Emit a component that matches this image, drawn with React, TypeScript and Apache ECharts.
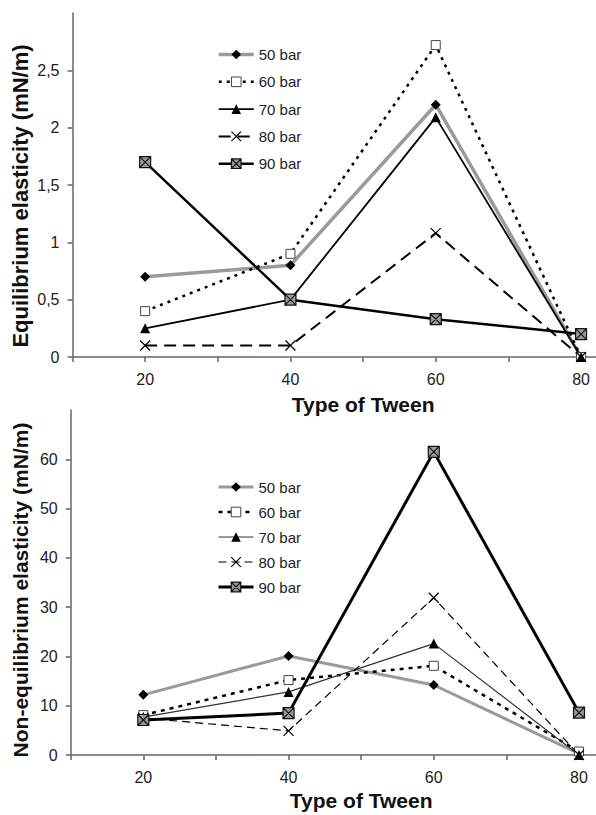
import React, { useEffect, useRef } from "react";
import * as echarts from "echarts";

// ---- data ----
const xValues = [20, 40, 60, 80];
const xLabelValues = [20, 40, 60, 80];
const yLabelsTop = [0, 0.5, 1, 1.5, 2, 2.5];
const yLabelsBottom = [0, 10, 20, 30, 40, 50, 60];
const seriesNames = ["50 bar", "60 bar", "70 bar", "80 bar", "90 bar"];

const eq50 = [0.7, 0.8, 2.2, 0.0];
const eq60 = [0.4, 0.9, 2.72, 0.0];
const eq70 = [0.25, 0.5, 2.09, 0.0];
const eq80 = [0.1, 0.1, 1.08, 0.0];
const eq90 = [1.7, 0.5, 0.33, 0.2];

const neq50 = [12.2, 20.1, 14.2, 0.3];
const neq60 = [8.1, 15.2, 18.1, 0.7];
const neq70 = [7.7, 12.8, 22.6, 0.0];
const neq80 = [7.5, 4.9, 31.9, 0.0];
const neq90 = [7.1, 8.5, 61.5, 8.6];

const FONT = "'Liberation Sans', Arial, Helvetica, sans-serif";
const X_PATH = "path://M0,0L10,10M10,0L0,10";
const BOXX_PATH = "path://M0,0L10,0L10,10L0,10Z M0,0L10,10 M10,0L0,10";

const pairs = (arr: number[]) => xValues.map((x, i) => [x, arr[i]]);

function styleFor(idx: number, bottom: boolean) {
  switch (idx) {
    case 0:
      return {
        symbol: "diamond",
        symbolSize: 10,
        itemStyle: { color: "#000" },
        lineStyle: { color: "#9a9a9a", width: bottom ? 3 : 3.5, type: "solid" },
      };
    case 1:
      return {
        symbol: "rect",
        symbolSize: 9,
        itemStyle: { color: "#fff", borderColor: "#444", borderWidth: 1 },
        lineStyle: { color: "#000", width: 2.5, type: bottom ? [4, 5] : [3, 5] },
      };
    case 2:
      return {
        symbol: "triangle",
        symbolSize: 10,
        itemStyle: { color: "#000" },
        lineStyle: { color: bottom ? "#333" : "#000", width: bottom ? 1.2 : 1.8, type: "solid" },
      };
    case 3:
      return {
        symbol: X_PATH,
        symbolSize: 10,
        itemStyle: { color: "#000", borderColor: "#000", borderWidth: 1.2 },
        lineStyle: { color: "#000", width: bottom ? 1.2 : 2, type: bottom ? [8, 5] : [12, 7] },
      };
    default:
      return {
        symbol: BOXX_PATH,
        symbolSize: 11,
        itemStyle: { color: "#9a9a9a", borderColor: "#111", borderWidth: 1.2 },
        lineStyle: { color: "#000", width: bottom ? 3 : 2.5, type: "solid" },
      };
  }
}

const axisLineStyle = { color: "#666", width: 1.5 };

function xAxis(gridIndex: number, nameGap: number) {
  return {
    type: "value",
    gridIndex,
    min: 10,
    max: 90,
    interval: 10,
    axisLine: { show: true, onZero: false, lineStyle: axisLineStyle },
    axisTick: { show: true, length: 5, lineStyle: axisLineStyle },
    axisLabel: {
      customValues: xLabelValues,
      fontSize: 16,
      color: "#222",
      fontFamily: FONT,
      margin: 14,
    },
    splitLine: { show: false },
    name: "Type of Tween",
    nameLocation: "middle",
    nameGap,
    nameTextStyle: { fontWeight: "bold", fontSize: 21, color: "#111", fontFamily: FONT },
  };
}

function yAxis(gridIndex: number, max: number, interval: number, labels: number[], comma: boolean) {
  return {
    type: "value",
    gridIndex,
    min: 0,
    max,
    interval,
    axisLine: { show: true, lineStyle: axisLineStyle },
    axisTick: { show: true, length: 5, customValues: labels, lineStyle: axisLineStyle },
    axisLabel: {
      customValues: labels,
      fontSize: 16,
      color: "#222",
      fontFamily: FONT,
      margin: 13,
      formatter: (v: number) => (comma ? String(v).replace(".", ",") : String(v)),
    },
    splitLine: { show: false },
  };
}

export default function App() {
  const ref = useRef<HTMLDivElement>(null);
  useEffect(() => {
    if (!ref.current) return;
    const chart = echarts.init(ref.current, null, { renderer: "svg" });
    const topData = [eq50, eq60, eq70, eq80, eq90];
    const botData = [neq50, neq60, neq70, neq80, neq90];
    const series: any[] = [];
    topData.forEach((d, i) => {
      series.push({
        type: "line",
        name: seriesNames[i],
        xAxisIndex: 0,
        yAxisIndex: 0,
        data: pairs(d),
        ...styleFor(i, false),
        z: i === 4 ? 3 : 2,
      });
    });
    botData.forEach((d, i) => {
      series.push({
        type: "line",
        name: "ne " + seriesNames[i],
        xAxisIndex: 1,
        yAxisIndex: 1,
        data: pairs(d),
        ...styleFor(i, true),
        z: i === 4 ? 3 : 2,
      });
    });
    const legendText = { fontSize: 15, color: "#222", fontFamily: FONT, lineHeight: 15 };
    const legendCommon = {
      orient: "vertical",
      left: 217,
      padding: 0,
      itemWidth: 35,
      itemHeight: 12,
      textStyle: legendText,
      selectedMode: false,
      lineStyle: { width: "inherit" },
      itemStyle: { borderWidth: "inherit" },
    };
    chart.setOption({
      animation: false,
      backgroundColor: "#fff",
      grid: [
        { left: 72.5, top: 13, width: 581.2, height: 344, outerBoundsMode: "none", containLabel: false },
        { left: 70.7, top: 410, width: 580.9, height: 345, outerBoundsMode: "none", containLabel: false },
      ],
      xAxis: [xAxis(0, 37), xAxis(1, 35)],
      yAxis: [
        yAxis(0, 3, 0.5, yLabelsTop, true),
        yAxis(1, 70, 10, yLabelsBottom, false),
      ],
      legend: [
        {
          ...legendCommon,
          top: 47,
          itemGap: 12.3,
          data: seriesNames,
        },
        {
          ...legendCommon,
          top: 479.5,
          itemGap: 10,
          data: seriesNames.map((n) => "ne " + n),
          formatter: (n: string) => n.replace(/^ne /, ""),
        },
      ],
      graphic: [
        {
          type: "text",
          x: 20,
          y: 196,
          rotation: Math.PI / 2,
          style: {
            text: "Equilibrium elasticity (mN/m)",
            fontSize: 22,
            fontWeight: "bold",
            fontFamily: FONT,
            fill: "#111",
            align: "center",
            verticalAlign: "middle",
          },
        },
        {
          type: "text",
          x: 20,
          y: 590,
          rotation: Math.PI / 2,
          style: {
            text: "Non-equilibrium elasticity (mN/m)",
            fontSize: 21,
            fontWeight: "bold",
            fontFamily: FONT,
            fill: "#111",
            align: "center",
            verticalAlign: "middle",
          },
        },
      ],
      series,
    });
    return () => chart.dispose();
  }, []);
  return (
    <div
      ref={ref}
      style={{ position: "absolute", left: 0, top: 0, width: 596, height: 815, background: "#fff" }}
    />
  );
}
